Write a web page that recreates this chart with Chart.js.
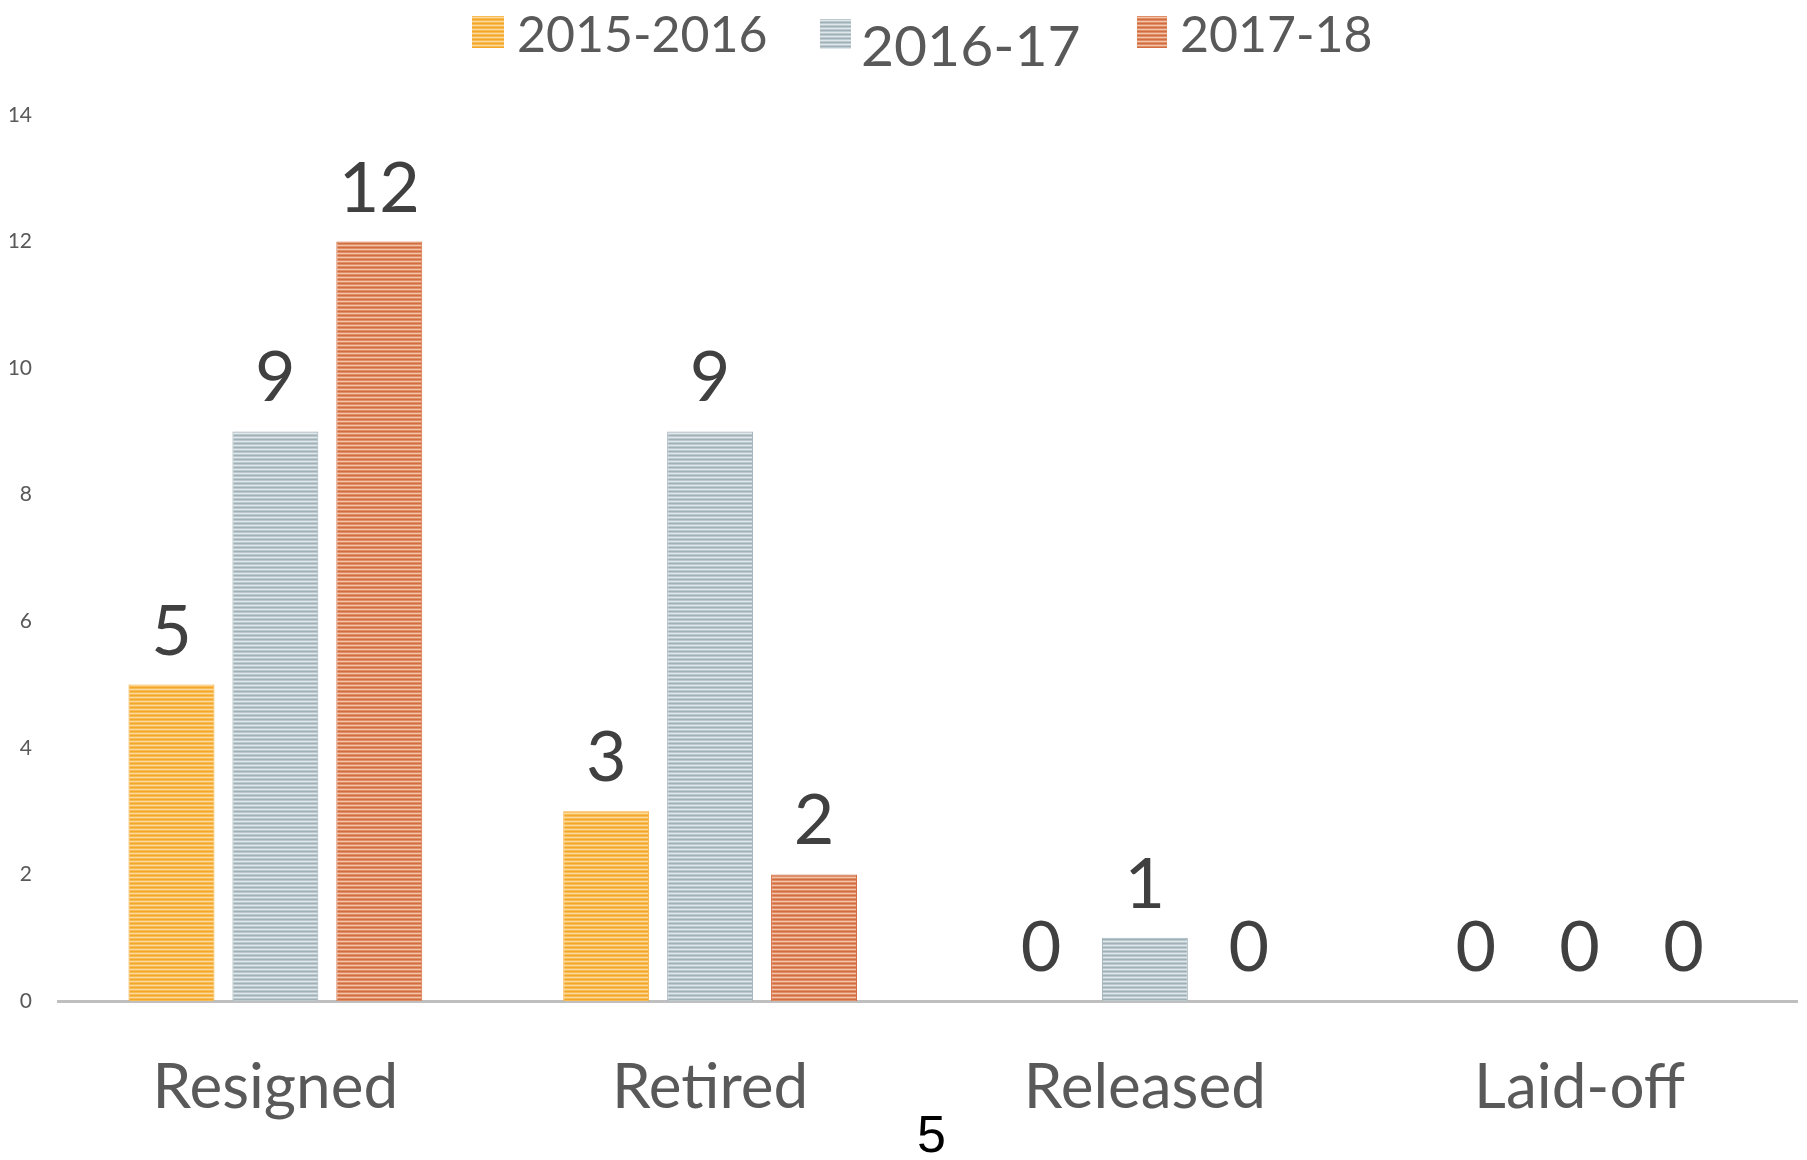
<!DOCTYPE html>
<html>
<head>
<meta charset="utf-8">
<script src="https://cdn.jsdelivr.net/npm/chart.js@4.4.1/dist/chart.umd.min.js"></script>
<style>
    html, body { margin: 0; padding: 0; background: #fff; }
    #wrap { position: relative; width: 1807px; height: 1160px; overflow: hidden; }
    #chart-box { position: absolute; left: 0; top: 0; width: 1807px; height: 1160px; }
    .lg-box { position: absolute; }
    .lg-text { position: absolute; font-family: Lato, 'Open Sans', sans-serif; color: #595959; line-height: 1; white-space: nowrap; }
    #page-no { position: absolute; left: 917px; top: 1108px; font-family: 'Liberation Sans', Arial, sans-serif; font-size: 52px; line-height: 1; color: #000; }
</style>
</head>
<body>
<div id="wrap">
    <div id="chart-box"><canvas id="exitChart"></canvas></div>
    <div id="legend"></div>
    <div id="page-no">5</div>
</div>
<script>
// Data
const categories = ['Resigned', 'Retired', 'Released', 'Laid-off'];
const seriesNames = ['2015-2016', '2016-17', '2017-18'];
const values2015 = [5, 3, 0, 0];
const values2016 = [9, 9, 1, 0];
const values2017 = [12, 2, 0, 0];
const yMax = 14;
const yStep = 2;

// base / light stripe / dark stripe
const palette = [
    ['#F8BC55', '#FCD89A', '#F4A62A'],
    ['#BCC9CE', '#E0E7EA', '#9FB0B7'],
    ['#E08E67', '#F2C4AA', '#D26D3F']
];

const canvas = document.getElementById('exitChart');
const ctx = canvas.getContext('2d');

function stripes(colors) {
    const c = document.createElement('canvas');
    c.width = 8; c.height = 4;
    const g = c.getContext('2d');
    g.fillStyle = colors[0]; g.fillRect(0, 0, 8, 4);
    g.fillStyle = colors[1]; g.fillRect(0, 1, 8, 1);
    g.fillStyle = colors[2]; g.fillRect(0, 3, 8, 1);
    return ctx.createPattern(c, 'repeat');
}

// HTML legend (middle item is set larger and lower, as in the slide)
const legendItems = [
    { box: [472, 16, 32, 32], text: [517, 8], size: 50 },
    { box: [820, 19, 31, 30], text: [861, 16], size: 57 },
    { box: [1137, 16, 30, 32], text: [1180, 8], size: 50 }
];
const legendEl = document.getElementById('legend');
legendItems.forEach((it, i) => {
    legendEl.innerHTML += `
        <div class="lg-box" style="left:${it.box[0]}px; top:${it.box[1]}px; width:${it.box[2]}px; height:${it.box[3]}px;
            background: repeating-linear-gradient(${palette[i][0]} 0 1px, ${palette[i][1]} 1px 2px, ${palette[i][0]} 2px 3px, ${palette[i][2]} 3px 4px);"></div>
        <div class="lg-text" style="left:${it.text[0]}px; top:${it.text[1]}px; font-size:${it.size}px;">${seriesNames[i]}</div>`;
});

// value labels above each bar (also for zero values)
const valueLabels = {
    id: 'valueLabels',
    afterDatasetsDraw(chart) {
        const c = chart.ctx;
        c.save();
        c.font = '70px Lato, "Open Sans", sans-serif';
        c.fillStyle = '#404040';
        c.textAlign = 'center';
        c.textBaseline = 'alphabetic';
        chart.data.datasets.forEach((ds, di) => {
            chart.getDatasetMeta(di).data.forEach((bar, i) => {
                c.fillText(String(ds.data[i]), bar.x, bar.y - 30);
            });
        });
        c.restore();
    }
};

const datasetValues = [values2015, values2016, values2017];

new Chart(ctx, {
    type: 'bar',
    data: {
        labels: categories,
        datasets: datasetValues.map((vals, i) => ({
            label: seriesNames[i],
            data: vals,
            backgroundColor: stripes(palette[i]),
            borderColor: palette[i][2],
            borderWidth: { left: 1, right: 1, top: 1, bottom: 0 },
            categoryPercentage: 0.717,
            barPercentage: 0.827
        }))
    },
    options: {
        responsive: true,
        maintainAspectRatio: false,
        animation: false,
        layout: { padding: { left: 10, right: 10, top: 115, bottom: 9 } },
        plugins: {
            legend: { display: false },
            tooltip: { enabled: false }
        },
        scales: {
            x: {
                grid: { display: false, drawTicks: false },
                border: { display: true, color: '#BFBFBF', width: 3 },
                ticks: {
                    color: '#595959',
                    padding: 50,
                    font: { family: 'Lato, "Open Sans", sans-serif', size: 62 }
                },
                afterFit: (scale) => { scale.height = 150; }
            },
            y: {
                min: 0,
                max: yMax,
                grid: { display: false, drawTicks: false },
                border: { display: false },
                ticks: {
                    stepSize: yStep,
                    color: '#595959',
                    padding: 26,
                    font: { family: 'Lato, "Open Sans", sans-serif', size: 21 }
                },
                afterFit: (scale) => { scale.width = 48; }
            }
        }
    },
    plugins: [valueLabels]
});
</script>
</body>
</html>
